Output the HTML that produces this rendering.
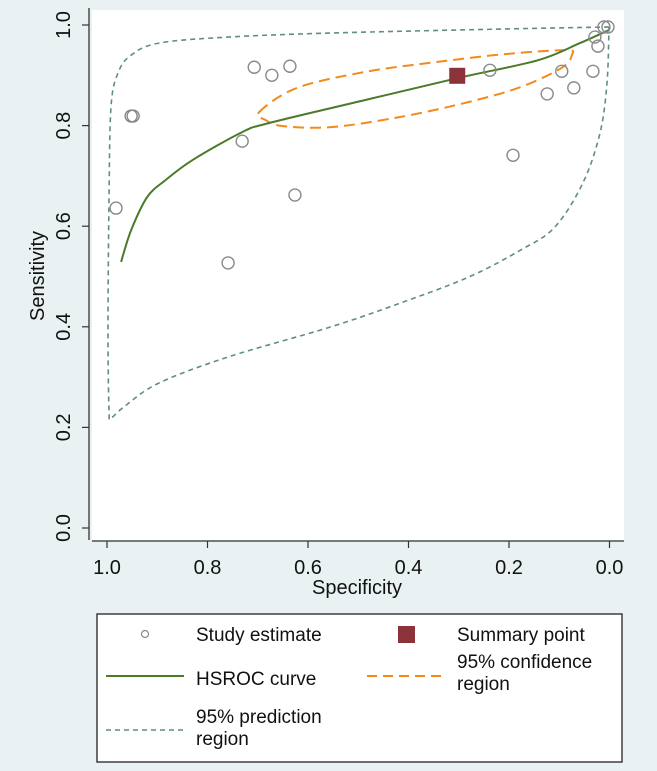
<!DOCTYPE html>
<html><head><meta charset="utf-8"><style>
body{margin:0;background:#e9f1f3;}
svg{display:block;font-family:"Liberation Sans",sans-serif;}
</style></head><body>
<svg id="chart" width="657" height="771">
<rect x="0" y="0" width="657" height="771" fill="#e9f1f3"/>
<rect x="92" y="10" width="532" height="530" fill="#fff"/>
<g id="axes"></g>
<g id="marks"></g>
<text x="357" y="594" font-size="20" text-anchor="middle" fill="#111">Specificity</text>
<text transform="translate(44,276) rotate(-90)" font-size="20" text-anchor="middle" fill="#111">Sensitivity</text>
<g>
<rect x="97" y="614" width="525" height="148" fill="#fff" stroke="#222" stroke-width="1.3"/>
<circle cx="145" cy="634" r="3.5" fill="none" stroke="#888" stroke-width="1.2"/>
<text x="196" y="641" font-size="19" fill="#111">Study estimate</text>
<rect x="398" y="626" width="17" height="17" fill="#8b3338"/>
<text x="457" y="641" font-size="19" fill="#111">Summary point</text>
<line x1="106" y1="676" x2="184" y2="676" stroke="#4a7a2a" stroke-width="2"/>
<text x="196" y="685" font-size="19" fill="#111">HSROC curve</text>
<line x1="367" y1="676" x2="445" y2="676" stroke="#f28a1e" stroke-width="2" stroke-dasharray="10,6"/>
<text x="457" y="668" font-size="19" fill="#111"><tspan x="457">95% confidence</tspan><tspan x="457" dy="22">region</tspan></text>
<line x1="106" y1="730" x2="184" y2="730" stroke="#5e8e84" stroke-width="1.5" stroke-dasharray="5,4"/>
<text x="196" y="723" font-size="19" fill="#111"><tspan x="196">95% prediction</tspan><tspan x="196" dy="22">region</tspan></text>
</g>
</svg>
<script>
const studySpec=[.982,.952,.948,.707,.672,.636,.731,.626,.759,.238,.192,.124,.095,.071,.033,.029,.023,.011,.003];
const studySens=[.636,.819,.819,.916,.900,.918,.769,.662,.527,.910,.741,.863,.908,.875,.908,.976,.958,.996,.996];
const summarySpec=[.303];
const summarySens=[.899];
const curveSpec=[.972,.952,.920,.883,.829,.731,.678,.485,.300,.142,.059,.001];
const curveSens=[.529,.592,.658,.692,.732,.787,.805,.851,.895,.930,.964,.990];
const confSpec=[.697,.622,.485,.347,.210,.087,.075,.095,.176,.280,.417,.554,.650,.684];
const confSens=[.827,.875,.907,.926,.942,.950,.940,.915,.877,.847,.817,.797,.799,.811];
const predSpec=[.001,.210,.554,.759,.897,.952,.978,.992,.996,.998,.996,.992,.966,.897,.759,.554,.417,.280,.176,.109,.053,.019,.005,.001];
const predSens=[.996,.992,.984,.976,.964,.940,.905,.837,.652,.394,.235,.219,.241,.288,.340,.400,.447,.499,.553,.598,.686,.785,.885,.996];
const xTicks=[1.0,0.8,0.6,0.4,0.2,0.0];
const yTicks=[0.0,0.2,0.4,0.6,0.8,1.0];
const X=s=>609.5-s*502.5;
const Y=v=>528-v*503;
const NS='http://www.w3.org/2000/svg';
function mk(tag,attrs,parent){const e=document.createElementNS(NS,tag);for(const k in attrs)e.setAttribute(k,attrs[k]);parent.appendChild(e);return e;}
const axes=document.getElementById('axes'),marks=document.getElementById('marks');
let e=mk('line',{x1:89,y1:8,x2:89,y2:540,stroke:'#333','stroke-width':1.3},axes);


e=mk('line',{x1:92,y1:541,x2:624,y2:541,stroke:'#333','stroke-width':1.3},axes);


xTicks.forEach(t=>{const x=X(t);
 let l=mk('line',{x1:x,y1:541,x2:x,y2:548,stroke:'#333','stroke-width':1.2},axes);
 
 
 let tx=mk('text',{x:x,y:574,'font-size':20,'text-anchor':'middle',fill:'#111'},axes);tx.textContent=t.toFixed(1);
 
 });
yTicks.forEach(t=>{const y=Y(t);
 let l=mk('line',{x1:82,y1:y,x2:89,y2:y,stroke:'#333','stroke-width':1.2},axes);
 
 
 let tx=mk('text',{transform:`translate(70,${y}) rotate(-90)`,'font-size':20,'text-anchor':'middle',fill:'#111'},axes);tx.textContent=t.toFixed(1);
 
 });
function smooth(sx,sy,closed){
 const p=sx.map((s,i)=>[X(s),Y(sy[i])]);const n=p.length;
 const g=i=>closed?p[(i+n)%n]:p[Math.max(0,Math.min(n-1,i))];
 let d='M'+p[0][0].toFixed(1)+','+p[0][1].toFixed(1);
 const m=closed?n:n-1;
 for(let i=0;i<m;i++){const p0=g(i-1),p1=g(i),p2=g(i+1),p3=g(i+2);
  const c1=[p1[0]+(p2[0]-p0[0])/6,p1[1]+(p2[1]-p0[1])/6],c2=[p2[0]-(p3[0]-p1[0])/6,p2[1]-(p3[1]-p1[1])/6];
  d+=` C${c1[0].toFixed(1)},${c1[1].toFixed(1)} ${c2[0].toFixed(1)},${c2[1].toFixed(1)} ${p2[0].toFixed(1)},${p2[1].toFixed(1)}`;}
 return d+(closed?'Z':'');}
e=mk('path',{d:smooth(predSpec,predSens,false),fill:'none',stroke:'#5e8e84','stroke-width':1.6,'stroke-dasharray':'5,4'},marks);


e=mk('path',{d:smooth(confSpec,confSens,true),fill:'none',stroke:'#f28a1e','stroke-width':2,'stroke-dasharray':'11,6'},marks);


e=mk('path',{d:smooth(curveSpec,curveSens,false),fill:'none',stroke:'#4a7a2a','stroke-width':2},marks);


studySpec.forEach((s,i)=>{const c=mk('circle',{cx:X(s),cy:Y(studySens[i]),r:6,fill:'none',stroke:'#8a8a8a','stroke-width':1.4},marks);
 
 });
summarySpec.forEach((s,i)=>{const r=mk('rect',{x:X(s)-8,y:Y(summarySens[i])-8,width:16,height:16,fill:'#8b3338'},marks);
 
 });
</script>
</body></html>
